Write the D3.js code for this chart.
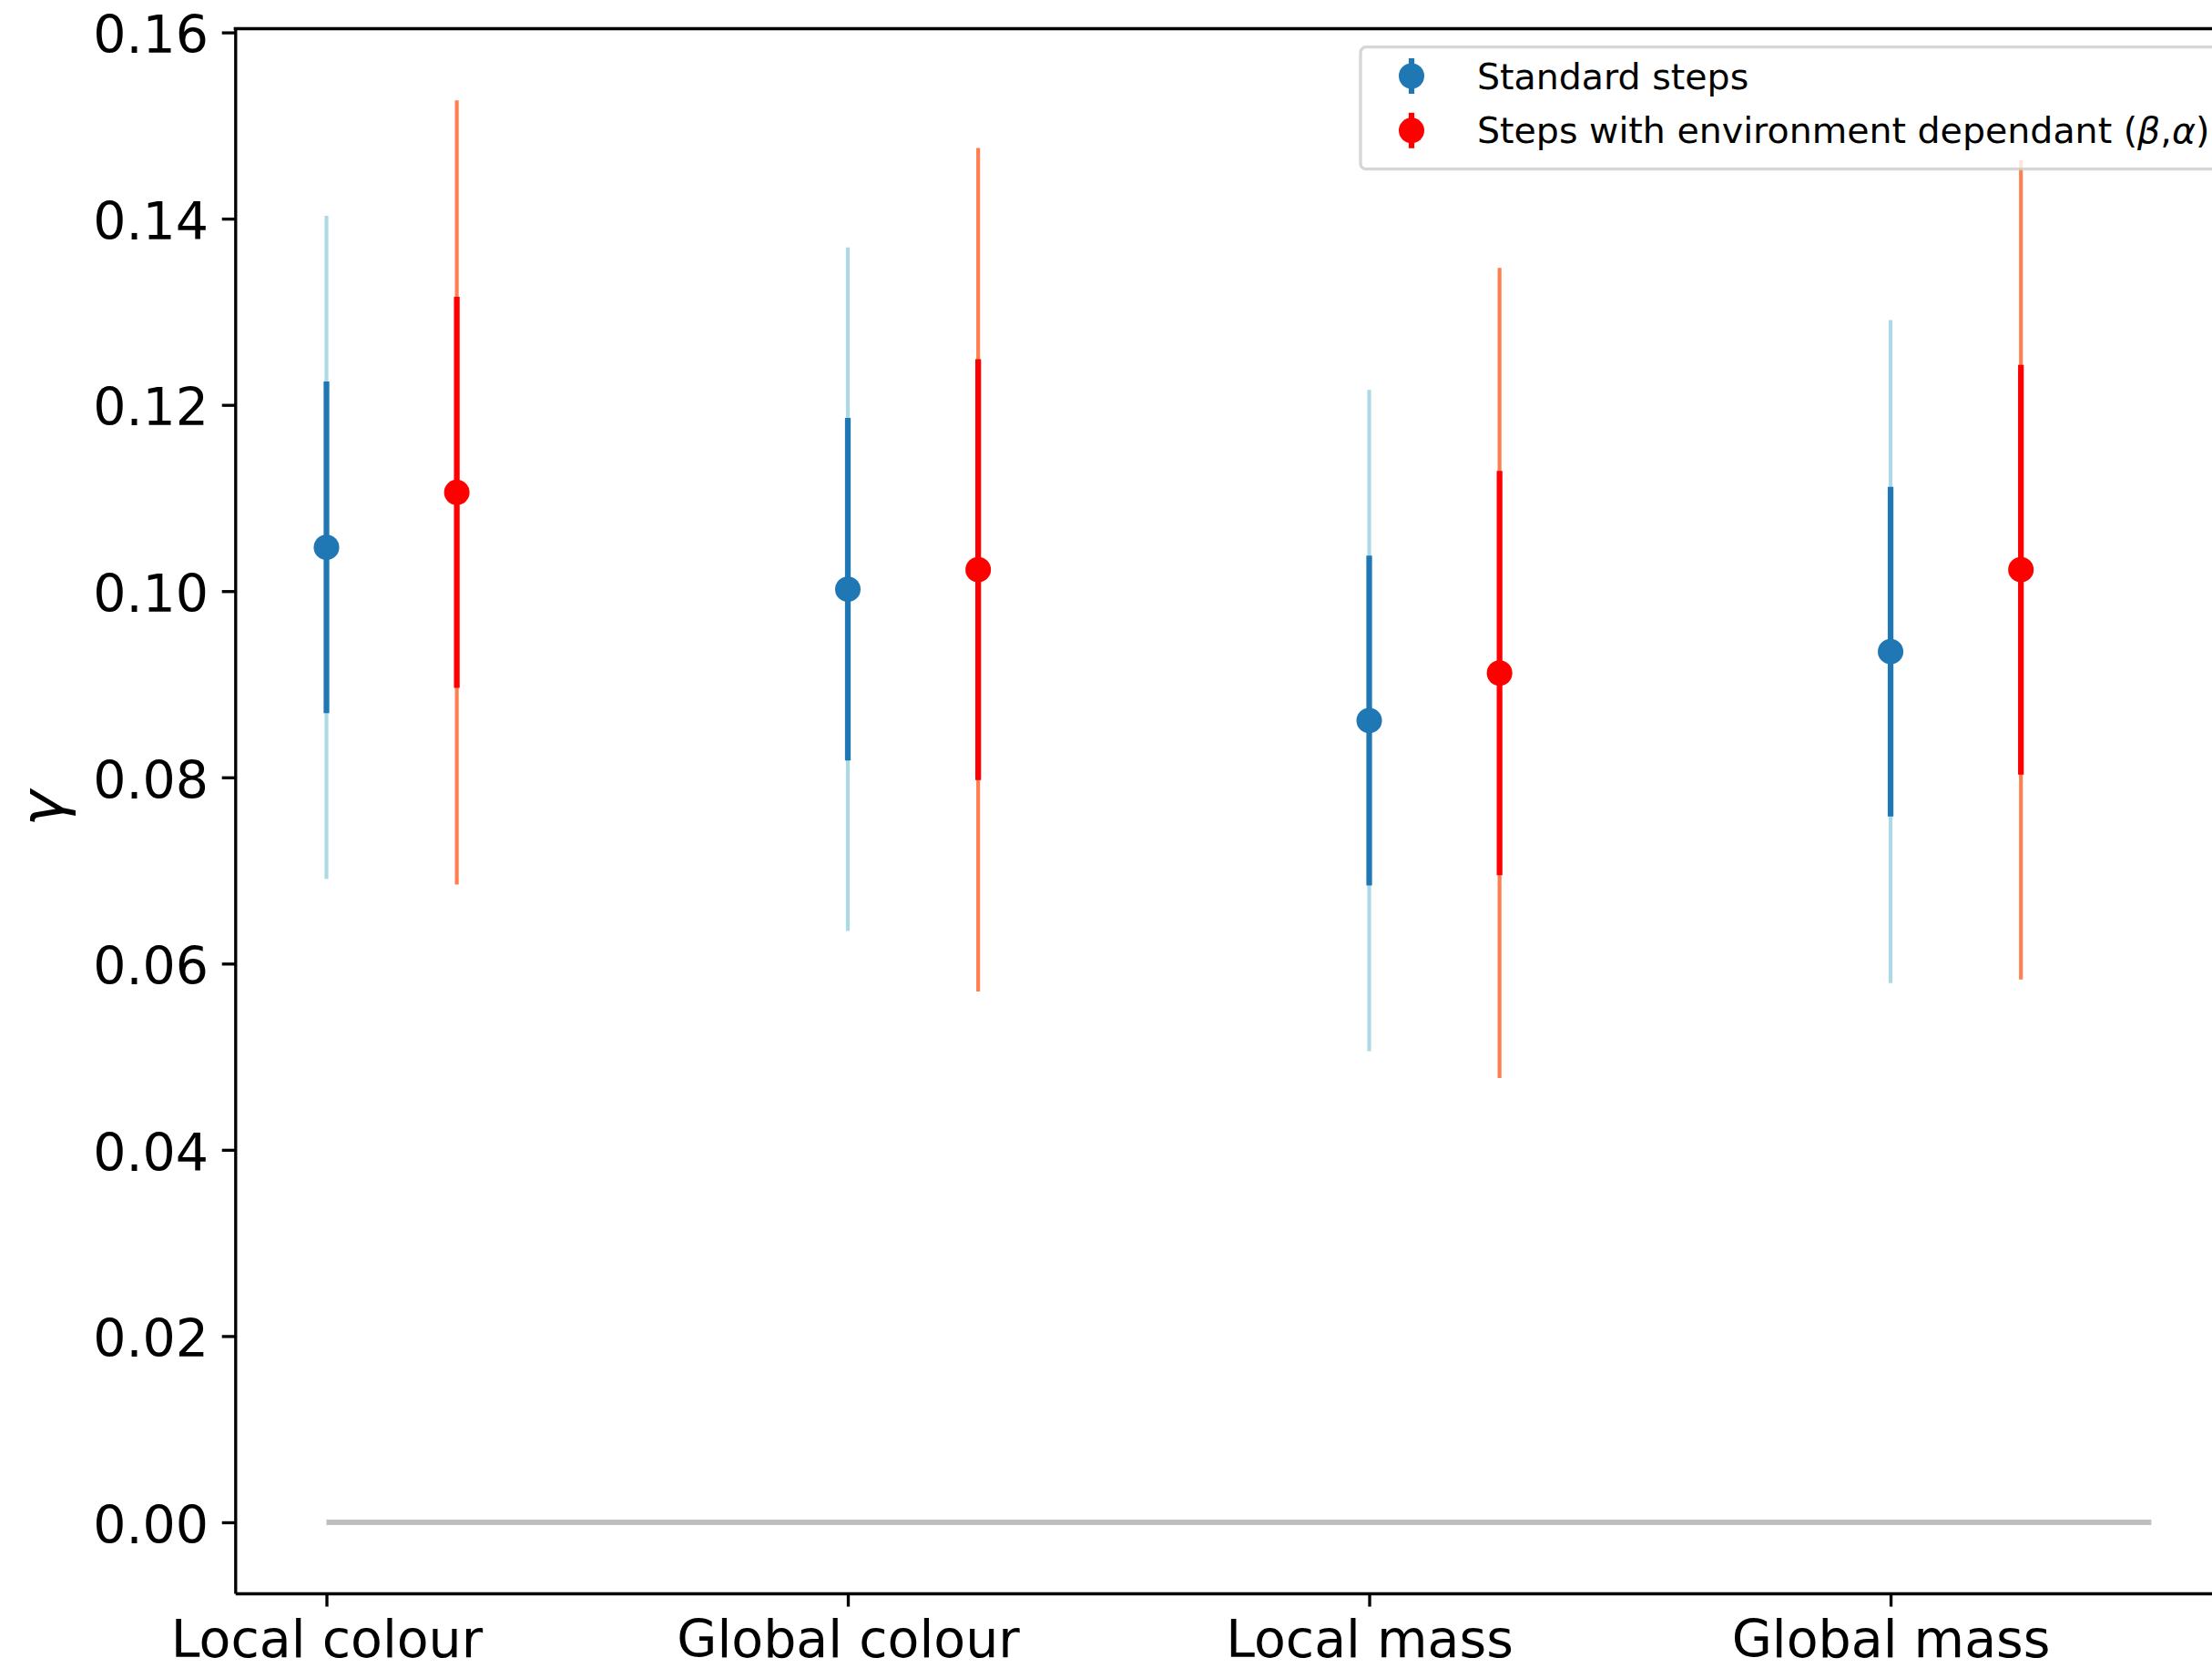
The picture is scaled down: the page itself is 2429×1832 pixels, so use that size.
<!DOCTYPE html>
<html>
<head>
<meta charset="utf-8">
<script src="https://cdn.jsdelivr.net/npm/d3@7"></script>
<style>
  html, body { margin: 0; padding: 0; background: #ffffff; }
  svg { display: block; font-family: "DejaVu Sans", sans-serif; }
</style>
</head>
<body>
<script>
// Category labels along the x axis
const categories = ["Local colour", "Global colour", "Local mass", "Global mass"];

// Standard steps: best-fit gamma, 1-sigma and 2-sigma half-widths
const stdGamma = [0.1047, 0.1002, 0.0861, 0.0935];
const stdErr1  = [0.0178, 0.0184, 0.0177, 0.0177];
const stdErr2  = [0.0356, 0.0367, 0.0355, 0.0356];

// Steps with environment dependant (beta, alpha)
const envGamma = [0.1106, 0.1023, 0.0912, 0.1023];
const envErr1  = [0.0210, 0.0226, 0.0217, 0.0220];
const envErr2  = [0.0421, 0.0453, 0.0435, 0.0440];

// y tick values
const yTicks = [0.00, 0.02, 0.04, 0.06, 0.08, 0.10, 0.12, 0.14, 0.16];

// Legend labels
const seriesLabels = ["Standard steps", "Steps with environment dependant"];

(function draw() {
  const W = 2429, H = 1832;
  const pt = 300 / 72;            // one point in pixels at 300 dpi
  const tickFont = 57;
  const legendFont = 39.5;

  const svg = d3.select("body").append("svg")
    .attr("width", W).attr("height", H)
    .attr("viewBox", `0 0 ${W} ${H}`);

  svg.append("rect").attr("width", W).attr("height", H).attr("fill", "#ffffff");

  const axLeft = 258.3, axRight = 2462.5, axTop = 31.5, axBottom = 1750;

  const x = d3.scaleLinear().domain([-0.175, 3.675]).range([axLeft, axRight]);
  const y = d3.scaleLinear().domain([-0.00763, 0.1604]).range([axBottom, axTop]);

  const offset = 0.25;  // horizontal shift of the second series

  // zero reference line
  svg.append("line")
    .attr("x1", x(0)).attr("x2", x(3.5))
    .attr("y1", y(0)).attr("y2", y(0))
    .attr("stroke", "#bfbfbf").attr("stroke-width", 1.4 * pt);

  const series = [
    { gamma: stdGamma, e1: stdErr1, e2: stdErr2, dx: 0, outer: "#add8e6", inner: "#1f77b4" },
    { gamma: envGamma, e1: envErr1, e2: envErr2, dx: offset, outer: "#ff7f50", inner: "#ff0000" }
  ];

  const plot = svg.append("g");

  series.forEach(s => {
    const rows = categories.map((c, i) => ({ i, g: s.gamma[i], e1: s.e1[i], e2: s.e2[i] }));
    // 2-sigma bars
    plot.append("g").selectAll("line").data(rows).join("line")
      .attr("x1", d => x(d.i + s.dx)).attr("x2", d => x(d.i + s.dx))
      .attr("y1", d => y(d.g - d.e2)).attr("y2", d => y(d.g + d.e2))
      .attr("stroke", s.outer).attr("stroke-width", 1 * pt);
    // 1-sigma bars
    plot.append("g").selectAll("line").data(rows).join("line")
      .attr("x1", d => x(d.i + s.dx)).attr("x2", d => x(d.i + s.dx))
      .attr("y1", d => y(d.g - d.e1)).attr("y2", d => y(d.g + d.e1))
      .attr("stroke", s.inner).attr("stroke-width", 1.5 * pt);
    // central values
    plot.append("g").selectAll("circle").data(rows).join("circle")
      .attr("cx", d => x(d.i + s.dx)).attr("cy", d => y(d.g))
      .attr("r", 14).attr("fill", s.inner);
  });

  // axes
  const yAxis = d3.axisLeft(y).tickValues(yTicks).tickFormat(d3.format(".2f"))
    .tickSize(3.5 * pt).tickPadding(3.5 * pt).tickSizeOuter(0);
  const gy = svg.append("g").attr("transform", `translate(${axLeft},0)`).call(yAxis);
  gy.selectAll("text").attr("dy", "0.39em");

  const xAxis = d3.axisBottom(x).tickValues([0, 1, 2, 3]).tickFormat(i => categories[i])
    .tickSize(3.5 * pt).tickPadding(3.5 * pt).tickSizeOuter(0);
  const gx = svg.append("g").attr("transform", `translate(0,${axBottom})`).call(xAxis);
  gx.selectAll("text").attr("dy", "0.72em");

  [gx, gy].forEach(g => {
    g.selectAll("text").attr("font-size", tickFont).attr("fill", "#000")
      .attr("font-family", "DejaVu Sans");
    g.selectAll(".tick line").attr("stroke", "#000").attr("stroke-width", 0.8 * pt);
    g.select(".domain").attr("stroke", "#000").attr("stroke-width", 0.8 * pt);
  });

  // top and right spines
  svg.append("line").attr("x1", axLeft).attr("x2", axRight).attr("y1", axTop).attr("y2", axTop)
    .attr("stroke", "#000").attr("stroke-width", 0.8 * pt).attr("stroke-linecap", "square");
  svg.append("line").attr("x1", axRight).attr("x2", axRight).attr("y1", axTop).attr("y2", axBottom)
    .attr("stroke", "#000").attr("stroke-width", 0.8 * pt);

  // y label
  svg.append("text")
    .attr("transform", `translate(68.5,888) rotate(-90)`)
    .attr("text-anchor", "middle")
    .attr("font-family", "DejaVu Sans")
    .attr("font-style", "italic")
    .attr("font-size", 16 * pt)
    .text("γ");

  // legend
  const lg = svg.append("g");
  lg.append("rect")
    .attr("x", 1494).attr("y", 51.7).attr("width", 951).attr("height", 134)
    .attr("rx", 6).attr("ry", 6)
    .attr("fill", "#ffffff").attr("fill-opacity", 0.8)
    .attr("stroke", "#cccccc").attr("stroke-opacity", 0.8).attr("stroke-width", 0.8 * pt);

  const rowsY = [83.5, 143.3];
  series.forEach((s, k) => {
    const cy = rowsY[k];
    lg.append("line").attr("x1", 1550).attr("x2", 1550)
      .attr("y1", cy - 19.5).attr("y2", cy + 19.5)
      .attr("stroke", s.inner).attr("stroke-width", 1.5 * pt);
    lg.append("circle").attr("cx", 1550).attr("cy", cy).attr("r", 14).attr("fill", s.inner);
    const t = lg.append("text").attr("x", 1622).attr("y", cy + 14)
      .attr("font-size", legendFont).attr("font-family", "DejaVu Sans").attr("fill", "#000");
    t.append("tspan").text(seriesLabels[k]);
    if (k === 1) {
      t.append("tspan").text(" (");
      t.append("tspan").attr("font-style", "italic").text("β");
      t.append("tspan").text(",");
      t.append("tspan").attr("font-style", "italic").text("α");
      t.append("tspan").text(")");
    }
  });
})();
</script>
</body>
</html>
